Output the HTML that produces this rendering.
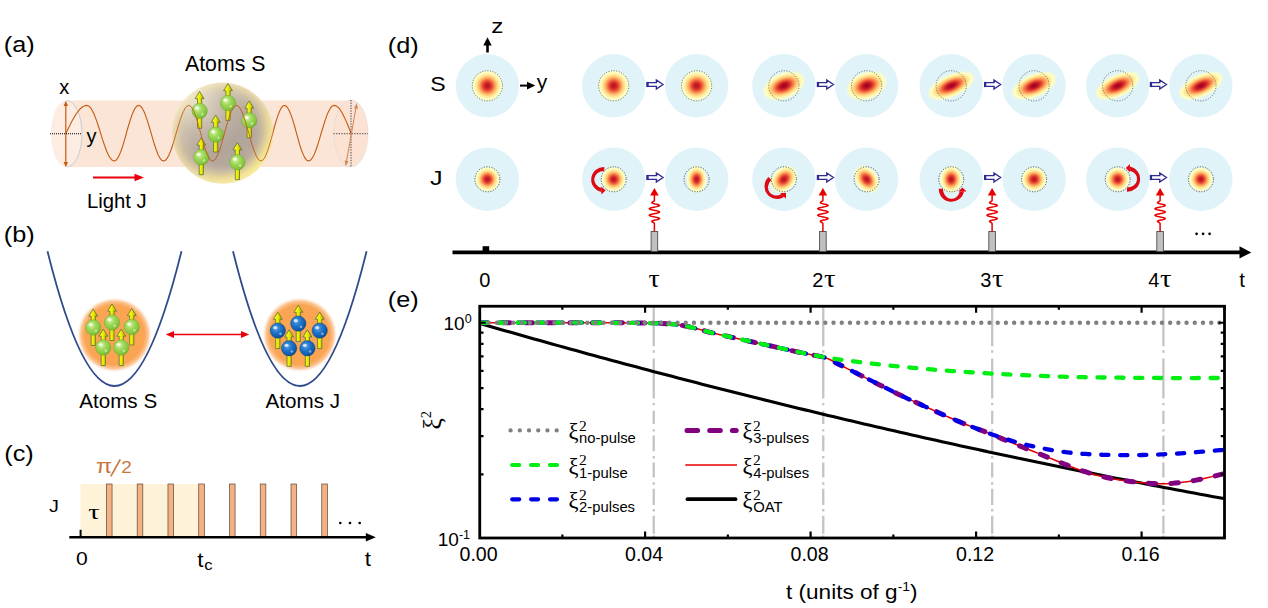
<!DOCTYPE html>
<html><head><meta charset="utf-8"><title>Figure</title>
<style>
html,body{margin:0;padding:0;background:#fff;}
body{width:1268px;height:608px;overflow:hidden;font-family:"Liberation Sans",sans-serif;}
svg{display:block;}
</style></head><body>
<svg width="1268" height="608" viewBox="0 0 1268 608">
<defs>
<radialGradient id="gs" cx="0" cy="0" r="1" gradientUnits="userSpaceOnUse"><stop offset="0.000" stop-color="#ba1426"/><stop offset="0.028" stop-color="#bb1526"/><stop offset="0.056" stop-color="#bc1626"/><stop offset="0.083" stop-color="#bf1927"/><stop offset="0.111" stop-color="#c31d27"/><stop offset="0.139" stop-color="#c82127"/><stop offset="0.167" stop-color="#ce2727"/><stop offset="0.194" stop-color="#d52e27"/><stop offset="0.222" stop-color="#da362a"/><stop offset="0.250" stop-color="#df402f"/><stop offset="0.278" stop-color="#e44b34"/><stop offset="0.306" stop-color="#ea5739"/><stop offset="0.333" stop-color="#ef633f"/><stop offset="0.361" stop-color="#f47044"/><stop offset="0.389" stop-color="#f67e4b"/><stop offset="0.417" stop-color="#f88c51"/><stop offset="0.444" stop-color="#fa9a58"/><stop offset="0.472" stop-color="#fca85e"/><stop offset="0.500" stop-color="#fdb467"/><stop offset="0.528" stop-color="#fdbe70"/><stop offset="0.556" stop-color="#fec97a"/><stop offset="0.583" stop-color="#fed383"/><stop offset="0.611" stop-color="#fedc8c"/><stop offset="0.639" stop-color="#fee395"/><stop offset="0.667" stop-color="#fee99d"/><stop offset="0.694" stop-color="#feeea5"/><stop offset="0.722" stop-color="#fff2ac"/><stop offset="0.750" stop-color="#fff7b3"/><stop offset="0.778" stop-color="#fffbb9"/><stop offset="0.806" stop-color="#ffffbf"/><stop offset="0.833" stop-color="#f9fdca"/><stop offset="0.861" stop-color="#f3fad5"/><stop offset="0.889" stop-color="#eef8df"/><stop offset="0.917" stop-color="#e9f6e8"/><stop offset="0.944" stop-color="#e4f5f0"/><stop offset="0.972" stop-color="#e0f3f7"/><stop offset="1.000" stop-color="#e0f3f8"/></radialGradient>
<radialGradient id="gs2" cx="0" cy="0" r="1" gradientUnits="userSpaceOnUse"><stop offset="0.000" stop-color="#a50026"/><stop offset="0.028" stop-color="#a60126"/><stop offset="0.056" stop-color="#a80226"/><stop offset="0.083" stop-color="#ab0526"/><stop offset="0.111" stop-color="#af0a26"/><stop offset="0.139" stop-color="#b50f26"/><stop offset="0.167" stop-color="#bb1526"/><stop offset="0.194" stop-color="#c31d27"/><stop offset="0.222" stop-color="#cb2527"/><stop offset="0.250" stop-color="#d52e27"/><stop offset="0.278" stop-color="#db392b"/><stop offset="0.306" stop-color="#e24631"/><stop offset="0.333" stop-color="#e85437"/><stop offset="0.361" stop-color="#ef623e"/><stop offset="0.389" stop-color="#f47044"/><stop offset="0.417" stop-color="#f7804c"/><stop offset="0.444" stop-color="#f98f53"/><stop offset="0.472" stop-color="#fb9e5a"/><stop offset="0.500" stop-color="#fdad61"/><stop offset="0.528" stop-color="#fdb96b"/><stop offset="0.556" stop-color="#fdc476"/><stop offset="0.583" stop-color="#fecf80"/><stop offset="0.611" stop-color="#fed989"/><stop offset="0.639" stop-color="#fee293"/><stop offset="0.667" stop-color="#fee79b"/><stop offset="0.694" stop-color="#feeda4"/><stop offset="0.722" stop-color="#fff2ab"/><stop offset="0.750" stop-color="#fff7b2"/><stop offset="0.778" stop-color="#fffbb9"/><stop offset="0.806" stop-color="#ffffbf"/><stop offset="0.833" stop-color="#f8fccb"/><stop offset="0.861" stop-color="#f2fad6"/><stop offset="0.889" stop-color="#edf8e0"/><stop offset="0.917" stop-color="#e8f6ea"/><stop offset="0.944" stop-color="#e3f4f2"/><stop offset="0.972" stop-color="#e0f3f8"/><stop offset="1.000" stop-color="#e0f3f8"/></radialGradient>

<radialGradient id="gball" cx="0.38" cy="0.35" r="0.7"><stop offset="0" stop-color="#d6f3a4"/><stop offset="0.45" stop-color="#9bd655"/><stop offset="0.85" stop-color="#82c43a"/><stop offset="1" stop-color="#69a82c"/></radialGradient>
<radialGradient id="bball" cx="0.38" cy="0.35" r="0.7"><stop offset="0" stop-color="#5aa6e8"/><stop offset="0.45" stop-color="#1f74c8"/><stop offset="0.85" stop-color="#0d58a8"/><stop offset="1" stop-color="#083f80"/></radialGradient>
<linearGradient id="arr" x1="0" x2="1" y1="0" y2="0"><stop offset="0" stop-color="#ffff40"/><stop offset="0.5" stop-color="#f0ec00"/><stop offset="1" stop-color="#a8a200"/></linearGradient>
<radialGradient id="sph" cx="0.5" cy="0.5" r="0.5"><stop offset="0" stop-color="#a69a90" stop-opacity="0.9"/><stop offset="0.6" stop-color="#ada095" stop-opacity="0.9"/><stop offset="0.8" stop-color="#bfb19c" stop-opacity="0.9"/><stop offset="0.93" stop-color="#dccb9f" stop-opacity="0.92"/><stop offset="1" stop-color="#ecdcb0" stop-opacity="0.92"/></radialGradient>
<radialGradient id="sphhi" cx="0.25" cy="0.22" r="0.5"><stop offset="0" stop-color="#fff6e2" stop-opacity="0.62"/><stop offset="0.55" stop-color="#fff6e0" stop-opacity="0.22"/><stop offset="1" stop-color="#fff8e0" stop-opacity="0"/></radialGradient>
<radialGradient id="sphlo" cx="0.5" cy="0.5" r="0.5"><stop offset="0.7" stop-color="#f8e88c" stop-opacity="0"/><stop offset="0.9" stop-color="#f8e88c" stop-opacity="0.8"/><stop offset="1" stop-color="#fbeea0" stop-opacity="0.9"/></radialGradient>
<linearGradient id="lomask" x1="0.25" y1="0.2" x2="0.8" y2="0.9"><stop offset="0.45" stop-color="#000"/><stop offset="0.95" stop-color="#fff"/></linearGradient>
<mask id="mlo" maskUnits="userSpaceOnUse" x="170" y="80" width="106" height="106"><rect x="170" y="80" width="106" height="106" fill="url(#lomask)"/></mask>
<radialGradient id="blob" cx="0.5" cy="0.5" r="0.5"><stop offset="0" stop-color="#f9a553"/><stop offset="0.8" stop-color="#f9a553"/><stop offset="0.9" stop-color="#fab576" stop-opacity="0.8"/><stop offset="1" stop-color="#fcd9bd" stop-opacity="0"/></radialGradient>

</defs>
<rect width="1268" height="608" fill="#ffffff"/>
<text transform="translate(3.70,52.00) scale(1.120,1)" font-family="Liberation Sans, sans-serif" font-size="22.60" fill="#000" >(a)</text>
<text x="185" y="71" font-family="Liberation Sans, sans-serif" font-size="21.3">Atoms S</text>
<rect x="66" y="100.5" width="285" height="66.5" fill="#fbe5d6"/>
<ellipse cx="66.5" cy="133.75" rx="15.5" ry="33.2" fill="#fcece2"/>
<path d="M66.5,100.5 A15.5,33.2 0 0 1 66.5,167" fill="none" stroke="#b8bccb" stroke-width="0.7"/>
<ellipse cx="351" cy="133.5" rx="17" ry="33.5" fill="#fbe2d3" stroke="#c9c9c9" stroke-width="0.6" stroke-dasharray="1.2 1"/>
<path d="M66.0,133.2 L67.5,130.1 L69.0,127.0 L70.5,124.0 L72.0,121.1 L73.5,118.4 L75.0,115.9 L76.5,113.5 L78.0,111.5 L79.5,109.7 L81.0,108.2 L82.5,107.0 L84.0,106.1 L85.5,105.6 L87.0,105.4 L88.9,106.1 L90.9,108.2 L92.8,111.5 L94.8,115.9 L96.7,121.1 L98.7,127.0 L100.6,133.2 L102.5,139.4 L104.5,145.3 L106.4,150.5 L108.4,154.9 L110.3,158.2 L112.3,160.3 L114.2,161.0 L115.9,160.3 L117.7,158.2 L119.4,154.9 L121.2,150.5 L122.9,145.3 L124.7,139.4 L126.4,133.2 L128.1,127.0 L129.9,121.1 L131.6,115.9 L133.4,111.5 L135.1,108.2 L136.9,106.1 L138.6,105.4 L140.4,106.1 L142.2,108.2 L144.0,111.5 L145.7,115.9 L147.5,121.1 L149.3,127.0 L151.1,133.2 L152.9,139.4 L154.7,145.3 L156.5,150.5 L158.2,154.9 L160.0,158.2 L161.8,160.3 L163.6,161.0 L165.4,160.3 L167.2,158.2 L169.0,154.9 L170.8,150.5 L172.6,145.3 L174.4,139.4 L176.2,133.2 L178.0,127.0 L179.8,121.1 L181.6,115.9 L183.4,111.5 L185.2,108.2 L187.0,106.1 L188.8,105.4 L190.5,106.1 L192.2,108.2 L193.9,111.5 L195.6,115.9 L197.3,121.1 L199.0,127.0 L200.7,133.2 L202.3,139.4 L204.0,145.3 L205.7,150.5 L207.4,154.9 L209.1,158.2 L210.8,160.3 L212.5,161.0 L214.2,160.3 L215.9,158.2 L217.6,154.9 L219.4,150.5 L221.1,145.3 L222.8,139.4 L224.5,133.2 L226.2,127.0 L227.9,121.1 L229.6,115.9 L231.4,111.5 L233.1,108.2 L234.8,106.1 L236.5,105.4 L238.2,106.1 L240.0,108.2 L241.8,111.5 L243.5,115.9 L245.2,121.1 L247.0,127.0 L248.8,133.2 L250.5,139.4 L252.2,145.3 L254.0,150.5 L255.8,154.9 L257.5,158.2 L259.2,160.3 L261.0,161.0 L262.7,160.3 L264.4,158.2 L266.0,154.9 L267.7,150.5 L269.4,145.3 L271.1,139.4 L272.8,133.2 L274.4,127.0 L276.1,121.1 L277.8,115.9 L279.5,111.5 L281.1,108.2 L282.8,106.1 L284.5,105.4 L286.2,106.1 L287.9,108.2 L289.6,111.5 L291.4,115.9 L293.1,121.1 L294.8,127.0 L296.5,133.2 L298.2,139.4 L299.9,145.3 L301.6,150.5 L303.4,154.9 L305.1,158.2 L306.8,160.3 L308.5,161.0 L310.3,160.3 L312.1,158.2 L314.0,154.9 L315.8,150.5 L317.6,145.3 L319.4,139.4 L321.2,133.2 L323.1,127.0 L324.9,121.1 L326.7,115.9 L328.5,111.5 L330.4,108.2 L332.2,106.1 L334.0,105.4 L335.2,105.6 L336.4,106.1 L337.6,107.0 L338.9,108.2 L340.1,109.7 L341.3,111.5 L342.5,113.5 L343.7,115.9 L344.9,118.4 L346.1,121.1 L347.4,124.0 L348.6,127.0 L349.8,130.1 L351.0,133.2" fill="none" stroke="#c55a11" stroke-width="1.1" stroke-linejoin="round"/>
<path d="M65.8,103 L65.8,165" stroke="#c55a11" stroke-width="1.2"/>
<path d="M65.8,100.8 L63.6,106 L68,106 Z M65.8,167.2 L63.6,162 L68,162 Z" fill="#c55a11"/>
<path d="M50,133.75 L82,133.75" stroke="#000" stroke-width="1" stroke-dasharray="1 1"/>
<text x="59.3" y="93.8" font-family="Liberation Sans, sans-serif" font-size="20">x</text>
<text x="86.5" y="142.8" font-family="Liberation Sans, sans-serif" font-size="20">y</text>
<path d="M351,100 L351,167 M333.5,133.7 L368,133.7" stroke="#333" stroke-width="0.9" stroke-dasharray="1.3 1.3"/>
<path d="M356.2,106.5 L346.2,163.2" stroke="#d08a5c" stroke-width="1.1"/>
<path d="M356.8,103.2 L353.9,108.3 L357.9,109 Z M345.6,166.3 L344.6,160.6 L348.5,161.3 Z" fill="#d08a5c"/>
<circle cx="222.6" cy="133" r="50.6" fill="url(#sph)"/>
<circle cx="222.6" cy="133" r="50.6" fill="url(#sphhi)"/>
<circle cx="222.6" cy="133" r="50.6" fill="url(#sphlo)" mask="url(#mlo)"/>
<path d="M199.60,91.40 L204.05,98.60 L201.70,98.60 L201.70,128.30 L197.50,128.30 L197.50,98.60 L195.15,98.60 Z" fill="url(#arr)" stroke="#4d6e3c" stroke-width="0.75" stroke-linejoin="round"/><circle cx="199.60" cy="110.90" r="7.70" fill="url(#gball)" stroke="#6aa030" stroke-width="0.4"/><ellipse cx="197.06" cy="107.97" rx="2.08" ry="1.69" fill="#fff" opacity="0.75"/><circle cx="202.29" cy="114.13" r="1.31" fill="#fff" opacity="0.45"/>
<path d="M228.00,83.50 L232.45,90.70 L230.10,90.70 L230.10,120.40 L225.90,120.40 L225.90,90.70 L223.55,90.70 Z" fill="url(#arr)" stroke="#4d6e3c" stroke-width="0.75" stroke-linejoin="round"/><circle cx="228.00" cy="103.00" r="7.70" fill="url(#gball)" stroke="#6aa030" stroke-width="0.4"/><ellipse cx="225.46" cy="100.07" rx="2.08" ry="1.69" fill="#fff" opacity="0.75"/><circle cx="230.69" cy="106.23" r="1.31" fill="#fff" opacity="0.45"/>
<path d="M249.20,100.90 L253.65,108.10 L251.30,108.10 L251.30,137.80 L247.10,137.80 L247.10,108.10 L244.75,108.10 Z" fill="url(#arr)" stroke="#4d6e3c" stroke-width="0.75" stroke-linejoin="round"/><circle cx="249.20" cy="120.40" r="7.70" fill="url(#gball)" stroke="#6aa030" stroke-width="0.4"/><ellipse cx="246.66" cy="117.47" rx="2.08" ry="1.69" fill="#fff" opacity="0.75"/><circle cx="251.89" cy="123.63" r="1.31" fill="#fff" opacity="0.45"/>
<path d="M215.70,115.10 L220.15,122.30 L217.80,122.30 L217.80,152.00 L213.60,152.00 L213.60,122.30 L211.25,122.30 Z" fill="url(#arr)" stroke="#4d6e3c" stroke-width="0.75" stroke-linejoin="round"/><circle cx="215.70" cy="134.60" r="7.70" fill="url(#gball)" stroke="#6aa030" stroke-width="0.4"/><ellipse cx="213.16" cy="131.67" rx="2.08" ry="1.69" fill="#fff" opacity="0.75"/><circle cx="218.39" cy="137.83" r="1.31" fill="#fff" opacity="0.45"/>
<path d="M201.30,137.80 L205.75,145.00 L203.40,145.00 L203.40,174.70 L199.20,174.70 L199.20,145.00 L196.85,145.00 Z" fill="url(#arr)" stroke="#4d6e3c" stroke-width="0.75" stroke-linejoin="round"/><circle cx="201.30" cy="157.30" r="7.70" fill="url(#gball)" stroke="#6aa030" stroke-width="0.4"/><ellipse cx="198.76" cy="154.37" rx="2.08" ry="1.69" fill="#fff" opacity="0.75"/><circle cx="204.00" cy="160.53" r="1.31" fill="#fff" opacity="0.45"/>
<path d="M237.40,142.70 L241.85,149.90 L239.50,149.90 L239.50,179.60 L235.30,179.60 L235.30,149.90 L232.95,149.90 Z" fill="url(#arr)" stroke="#4d6e3c" stroke-width="0.75" stroke-linejoin="round"/><circle cx="237.40" cy="162.20" r="7.70" fill="url(#gball)" stroke="#6aa030" stroke-width="0.4"/><ellipse cx="234.86" cy="159.27" rx="2.08" ry="1.69" fill="#fff" opacity="0.75"/><circle cx="240.09" cy="165.43" r="1.31" fill="#fff" opacity="0.45"/>
<clipPath id="csph"><circle cx="222.6" cy="133" r="50.6"/></clipPath>
<path clip-path="url(#csph)" d="M66.0,133.2 L67.5,130.1 L69.0,127.0 L70.5,124.0 L72.0,121.1 L73.5,118.4 L75.0,115.9 L76.5,113.5 L78.0,111.5 L79.5,109.7 L81.0,108.2 L82.5,107.0 L84.0,106.1 L85.5,105.6 L87.0,105.4 L88.9,106.1 L90.9,108.2 L92.8,111.5 L94.8,115.9 L96.7,121.1 L98.7,127.0 L100.6,133.2 L102.5,139.4 L104.5,145.3 L106.4,150.5 L108.4,154.9 L110.3,158.2 L112.3,160.3 L114.2,161.0 L115.9,160.3 L117.7,158.2 L119.4,154.9 L121.2,150.5 L122.9,145.3 L124.7,139.4 L126.4,133.2 L128.1,127.0 L129.9,121.1 L131.6,115.9 L133.4,111.5 L135.1,108.2 L136.9,106.1 L138.6,105.4 L140.4,106.1 L142.2,108.2 L144.0,111.5 L145.7,115.9 L147.5,121.1 L149.3,127.0 L151.1,133.2 L152.9,139.4 L154.7,145.3 L156.5,150.5 L158.2,154.9 L160.0,158.2 L161.8,160.3 L163.6,161.0 L165.4,160.3 L167.2,158.2 L169.0,154.9 L170.8,150.5 L172.6,145.3 L174.4,139.4 L176.2,133.2 L178.0,127.0 L179.8,121.1 L181.6,115.9 L183.4,111.5 L185.2,108.2 L187.0,106.1 L188.8,105.4 L190.5,106.1 L192.2,108.2 L193.9,111.5 L195.6,115.9 L197.3,121.1 L199.0,127.0 L200.7,133.2 L202.3,139.4 L204.0,145.3 L205.7,150.5 L207.4,154.9 L209.1,158.2 L210.8,160.3 L212.5,161.0 L214.2,160.3 L215.9,158.2 L217.6,154.9 L219.4,150.5 L221.1,145.3 L222.8,139.4 L224.5,133.2 L226.2,127.0 L227.9,121.1 L229.6,115.9 L231.4,111.5 L233.1,108.2 L234.8,106.1 L236.5,105.4 L238.2,106.1 L240.0,108.2 L241.8,111.5 L243.5,115.9 L245.2,121.1 L247.0,127.0 L248.8,133.2 L250.5,139.4 L252.2,145.3 L254.0,150.5 L255.8,154.9 L257.5,158.2 L259.2,160.3 L261.0,161.0 L262.7,160.3 L264.4,158.2 L266.0,154.9 L267.7,150.5 L269.4,145.3 L271.1,139.4 L272.8,133.2 L274.4,127.0 L276.1,121.1 L277.8,115.9 L279.5,111.5 L281.1,108.2 L282.8,106.1 L284.5,105.4 L286.2,106.1 L287.9,108.2 L289.6,111.5 L291.4,115.9 L293.1,121.1 L294.8,127.0 L296.5,133.2 L298.2,139.4 L299.9,145.3 L301.6,150.5 L303.4,154.9 L305.1,158.2 L306.8,160.3 L308.5,161.0 L310.3,160.3 L312.1,158.2 L314.0,154.9 L315.8,150.5 L317.6,145.3 L319.4,139.4 L321.2,133.2 L323.1,127.0 L324.9,121.1 L326.7,115.9 L328.5,111.5 L330.4,108.2 L332.2,106.1 L334.0,105.4 L335.2,105.6 L336.4,106.1 L337.6,107.0 L338.9,108.2 L340.1,109.7 L341.3,111.5 L342.5,113.5 L343.7,115.9 L344.9,118.4 L346.1,121.1 L347.4,124.0 L348.6,127.0 L349.8,130.1 L351.0,133.2" fill="none" stroke="#c55a11" stroke-width="1" opacity="0.85"/>
<path d="M93,177.5 L136,177.5" stroke="#e8000d" stroke-width="1.8"/>
<path d="M144,177.5 L134.5,173.7 L134.5,181.3 Z" fill="#e8000d"/>
<text x="87" y="207.5" font-family="Liberation Sans, sans-serif" font-size="20.3">Light J</text>
<text transform="translate(3.70,242.00) scale(1.120,1)" font-family="Liberation Sans, sans-serif" font-size="22.60" fill="#000" >(b)</text>
<path d="M47.50,251.25 Q114.50,520.75 181.50,251.25" fill="none" stroke="#2f4b8c" stroke-width="1.8"/>
<path d="M233.00,251.25 Q299.80,520.75 366.60,251.25" fill="none" stroke="#2f4b8c" stroke-width="1.8"/>
<circle cx="114.5" cy="334.9" r="37.3" fill="url(#blob)"/>
<circle cx="299.8" cy="334.8" r="37.3" fill="url(#blob)"/>
<path d="M93.25,309.00 L97.70,316.20 L95.35,316.20 L95.35,345.50 L91.15,345.50 L91.15,316.20 L88.80,316.20 Z" fill="url(#arr)" stroke="#4d6e3c" stroke-width="0.75" stroke-linejoin="round"/><circle cx="93.25" cy="327.50" r="7.70" fill="url(#gball)" stroke="#6aa030" stroke-width="0.4"/><ellipse cx="90.71" cy="324.57" rx="2.08" ry="1.69" fill="#fff" opacity="0.75"/><circle cx="95.94" cy="330.73" r="1.31" fill="#fff" opacity="0.45"/>
<path d="M112.00,304.00 L116.45,311.20 L114.10,311.20 L114.10,340.50 L109.90,340.50 L109.90,311.20 L107.55,311.20 Z" fill="url(#arr)" stroke="#4d6e3c" stroke-width="0.75" stroke-linejoin="round"/><circle cx="112.00" cy="322.50" r="7.70" fill="url(#gball)" stroke="#6aa030" stroke-width="0.4"/><ellipse cx="109.46" cy="319.57" rx="2.08" ry="1.69" fill="#fff" opacity="0.75"/><circle cx="114.69" cy="325.73" r="1.31" fill="#fff" opacity="0.45"/>
<path d="M131.75,308.50 L136.20,315.70 L133.85,315.70 L133.85,345.00 L129.65,345.00 L129.65,315.70 L127.30,315.70 Z" fill="url(#arr)" stroke="#4d6e3c" stroke-width="0.75" stroke-linejoin="round"/><circle cx="131.75" cy="327.00" r="7.70" fill="url(#gball)" stroke="#6aa030" stroke-width="0.4"/><ellipse cx="129.21" cy="324.07" rx="2.08" ry="1.69" fill="#fff" opacity="0.75"/><circle cx="134.44" cy="330.23" r="1.31" fill="#fff" opacity="0.45"/>
<path d="M103.25,329.00 L107.70,336.20 L105.35,336.20 L105.35,365.50 L101.15,365.50 L101.15,336.20 L98.80,336.20 Z" fill="url(#arr)" stroke="#4d6e3c" stroke-width="0.75" stroke-linejoin="round"/><circle cx="103.25" cy="347.50" r="7.70" fill="url(#gball)" stroke="#6aa030" stroke-width="0.4"/><ellipse cx="100.71" cy="344.57" rx="2.08" ry="1.69" fill="#fff" opacity="0.75"/><circle cx="105.94" cy="350.73" r="1.31" fill="#fff" opacity="0.45"/>
<path d="M121.25,329.00 L125.70,336.20 L123.35,336.20 L123.35,365.50 L119.15,365.50 L119.15,336.20 L116.80,336.20 Z" fill="url(#arr)" stroke="#4d6e3c" stroke-width="0.75" stroke-linejoin="round"/><circle cx="121.25" cy="347.50" r="7.70" fill="url(#gball)" stroke="#6aa030" stroke-width="0.4"/><ellipse cx="118.71" cy="344.57" rx="2.08" ry="1.69" fill="#fff" opacity="0.75"/><circle cx="123.94" cy="350.73" r="1.31" fill="#fff" opacity="0.45"/>
<path d="M277.80,312.10 L282.25,319.30 L279.90,319.30 L279.90,348.60 L275.70,348.60 L275.70,319.30 L273.35,319.30 Z" fill="url(#arr)" stroke="#4d6e3c" stroke-width="0.75" stroke-linejoin="round"/><circle cx="277.80" cy="330.60" r="7.70" fill="url(#bball)" stroke="#0a3a78" stroke-width="0.4"/><ellipse cx="275.26" cy="327.67" rx="2.08" ry="1.69" fill="#fff" opacity="0.75"/><circle cx="280.50" cy="333.83" r="1.31" fill="#fff" opacity="0.45"/>
<path d="M298.30,305.10 L302.75,312.30 L300.40,312.30 L300.40,341.60 L296.20,341.60 L296.20,312.30 L293.85,312.30 Z" fill="url(#arr)" stroke="#4d6e3c" stroke-width="0.75" stroke-linejoin="round"/><circle cx="298.30" cy="323.60" r="7.70" fill="url(#bball)" stroke="#0a3a78" stroke-width="0.4"/><ellipse cx="295.76" cy="320.67" rx="2.08" ry="1.69" fill="#fff" opacity="0.75"/><circle cx="301.00" cy="326.83" r="1.31" fill="#fff" opacity="0.45"/>
<path d="M319.70,312.10 L324.15,319.30 L321.80,319.30 L321.80,348.60 L317.60,348.60 L317.60,319.30 L315.25,319.30 Z" fill="url(#arr)" stroke="#4d6e3c" stroke-width="0.75" stroke-linejoin="round"/><circle cx="319.70" cy="330.60" r="7.70" fill="url(#bball)" stroke="#0a3a78" stroke-width="0.4"/><ellipse cx="317.16" cy="327.67" rx="2.08" ry="1.69" fill="#fff" opacity="0.75"/><circle cx="322.39" cy="333.83" r="1.31" fill="#fff" opacity="0.45"/>
<path d="M289.10,329.80 L293.55,337.00 L291.20,337.00 L291.20,366.30 L287.00,366.30 L287.00,337.00 L284.65,337.00 Z" fill="url(#arr)" stroke="#4d6e3c" stroke-width="0.75" stroke-linejoin="round"/><circle cx="289.10" cy="348.30" r="7.70" fill="url(#bball)" stroke="#0a3a78" stroke-width="0.4"/><ellipse cx="286.56" cy="345.37" rx="2.08" ry="1.69" fill="#fff" opacity="0.75"/><circle cx="291.80" cy="351.53" r="1.31" fill="#fff" opacity="0.45"/>
<path d="M307.40,329.80 L311.85,337.00 L309.50,337.00 L309.50,366.30 L305.30,366.30 L305.30,337.00 L302.95,337.00 Z" fill="url(#arr)" stroke="#4d6e3c" stroke-width="0.75" stroke-linejoin="round"/><circle cx="307.40" cy="348.30" r="7.70" fill="url(#bball)" stroke="#0a3a78" stroke-width="0.4"/><ellipse cx="304.86" cy="345.37" rx="2.08" ry="1.69" fill="#fff" opacity="0.75"/><circle cx="310.09" cy="351.53" r="1.31" fill="#fff" opacity="0.45"/>
<path d="M172,334.5 L243,334.5" stroke="#e8000d" stroke-width="1.6"/>
<path d="M165.8,334.5 L174,331 L174,338 Z M249.2,334.5 L241,331 L241,338 Z" fill="#e8000d"/>
<text x="79.3" y="408.3" font-family="Liberation Sans, sans-serif" font-size="20.6">Atoms S</text>
<text x="265.6" y="408" font-family="Liberation Sans, sans-serif" font-size="20.6">Atoms J</text>
<text transform="translate(4.20,460.50) scale(1.120,1)" font-family="Liberation Sans, sans-serif" font-size="22.60" fill="#000" >(c)</text>
<rect x="80.5" y="484" width="123" height="53" fill="#fef2d9"/>
<rect x="106.45" y="484" width="5.6" height="53" fill="#f4b183" stroke="#5a4636" stroke-width="0.7"/>
<rect x="137.21" y="484" width="5.6" height="53" fill="#f4b183" stroke="#5a4636" stroke-width="0.7"/>
<rect x="167.97" y="484" width="5.6" height="53" fill="#f4b183" stroke="#5a4636" stroke-width="0.7"/>
<rect x="198.73" y="484" width="5.6" height="53" fill="#f4b183" stroke="#5a4636" stroke-width="0.7"/>
<rect x="229.49" y="484" width="5.6" height="53" fill="#f4b183" stroke="#5a4636" stroke-width="0.7"/>
<rect x="260.25" y="484" width="5.6" height="53" fill="#f4b183" stroke="#5a4636" stroke-width="0.7"/>
<rect x="291.01" y="484" width="5.6" height="53" fill="#f4b183" stroke="#5a4636" stroke-width="0.7"/>
<rect x="321.77" y="484" width="5.6" height="53" fill="#f4b183" stroke="#5a4636" stroke-width="0.7"/>
<path d="M69.3,537.2 L367,537.2" stroke="#000" stroke-width="2.6"/>
<path d="M375.8,537.2 L365.8,533 L365.8,541.4 Z" fill="#000"/>
<path d="M80.6,529.8 L80.6,537" stroke="#000" stroke-width="2"/>
<text transform="translate(96.00,473.00) scale(1.200,1)" font-family="Liberation Sans, sans-serif" font-size="19.50" fill="#c7793c" >π</text>
<path d="M110.8,476.3 L120.3,459.3" stroke="#c7793c" stroke-width="1.7"/>
<text transform="translate(121.20,473.00) scale(1.100,1)" font-family="Liberation Sans, sans-serif" font-size="17.20" fill="#c7793c" >2</text>
<text transform="translate(49.00,512.30) scale(1.200,1)" font-family="Liberation Sans, sans-serif" font-size="16.50" fill="#000" >J</text>
<text transform="translate(88.30,518.80) scale(1.300,1)" font-family="Liberation Serif, serif" font-size="22.00" fill="#000" >τ</text>
<text transform="translate(76.00,565.00) scale(1.200,1)" font-family="Liberation Sans, sans-serif" font-size="17.60" fill="#000" >0</text>
<text transform="translate(197.30,567.00) scale(1.150,1)" font-family="Liberation Sans, sans-serif" font-size="19.50" fill="#000" >t</text>
<text transform="translate(204.30,570.30) scale(1.150,1)" font-family="Liberation Sans, sans-serif" font-size="14.50" fill="#000" >c</text>
<text transform="translate(364.80,565.80) scale(1.150,1)" font-family="Liberation Sans, sans-serif" font-size="19.50" fill="#000" >t</text>
<circle cx="340.3" cy="523" r="1.3" fill="#000"/>
<circle cx="350.0" cy="523" r="1.3" fill="#000"/>
<circle cx="359.7" cy="523" r="1.3" fill="#000"/>
<text transform="translate(387.70,52.50) scale(1.120,1)" font-family="Liberation Sans, sans-serif" font-size="22.60" fill="#000" >(d)</text>
<text transform="translate(491.30,33.00) scale(1.150,1)" font-family="Liberation Sans, sans-serif" font-size="21.00" fill="#000" >z</text>
<path d="M487.5,52.5 L487.5,44" stroke="#000" stroke-width="2.6"/>
<path d="M487.5,37.3 L483.3,45.5 L491.7,45.5 Z" fill="#000"/>
<path d="M520,85.6 L528,85.6" stroke="#000" stroke-width="2"/>
<path d="M535.3,85.6 L527,81.8 L527,89.4 Z" fill="#000"/>
<text x="536.8" y="88.5" font-family="Liberation Sans, sans-serif" font-size="21">y</text>
<text transform="translate(430.30,91.30) scale(1.100,1)" font-family="Liberation Sans, sans-serif" font-size="21.00" fill="#000" >S</text>
<text transform="translate(430.00,185.30) scale(1.220,1)" font-family="Liberation Sans, sans-serif" font-size="20.60" fill="#000" >J</text>
<clipPath id="cps0"><circle cx="487.40" cy="85.80" r="31.70"/></clipPath><circle cx="487.40" cy="85.80" r="31.70" fill="#e0f3f8"/><g clip-path="url(#cps0)"><g transform="translate(487.40,85.80) rotate(0.0) scale(16.790,16.790)"><circle r="1" fill="url(#gs)"/></g></g><circle cx="487.40" cy="85.80" r="15.10" fill="none" stroke="#222" stroke-width="0.62" stroke-linecap="round" stroke-dasharray="0.3 2.33"/>
<clipPath id="cpj0"><circle cx="487.40" cy="179.30" r="31.70"/></clipPath><circle cx="487.40" cy="179.30" r="31.70" fill="#e0f3f8"/><g clip-path="url(#cpj0)"><g transform="translate(487.40,179.30) rotate(0.0) scale(13.570,13.570)"><circle r="1" fill="url(#gs)"/></g></g><circle cx="487.40" cy="179.30" r="12.50" fill="none" stroke="#222" stroke-width="0.78" stroke-linecap="round" stroke-dasharray="0.3 2.33"/>
<clipPath id="cps1"><circle cx="613.70" cy="85.80" r="31.70"/></clipPath><circle cx="613.70" cy="85.80" r="31.70" fill="#e0f3f8"/><g clip-path="url(#cps1)"><g transform="translate(613.70,85.80) rotate(0.0) scale(16.790,16.790)"><circle r="1" fill="url(#gs)"/></g></g><circle cx="613.70" cy="85.80" r="15.10" fill="none" stroke="#222" stroke-width="0.62" stroke-linecap="round" stroke-dasharray="0.3 2.33"/>
<clipPath id="cpj1"><circle cx="613.70" cy="179.30" r="31.70"/></clipPath><circle cx="613.70" cy="179.30" r="31.70" fill="#e0f3f8"/><g clip-path="url(#cpj1)"><g transform="translate(613.70,179.30) rotate(0.0) scale(13.570,13.570)"><circle r="1" fill="url(#gs)"/></g></g><circle cx="613.70" cy="179.30" r="12.50" fill="none" stroke="#222" stroke-width="0.78" stroke-linecap="round" stroke-dasharray="0.3 2.33"/>
<clipPath id="cps2"><circle cx="696.60" cy="85.80" r="31.70"/></clipPath><circle cx="696.60" cy="85.80" r="31.70" fill="#e0f3f8"/><g clip-path="url(#cps2)"><g transform="translate(696.60,85.80) rotate(-10.0) scale(17.250,16.330)"><circle r="1" fill="url(#gs)"/></g></g><circle cx="696.60" cy="85.80" r="15.10" fill="none" stroke="#222" stroke-width="0.62" stroke-linecap="round" stroke-dasharray="0.3 2.33"/>
<clipPath id="cpj2"><circle cx="696.60" cy="179.30" r="31.70"/></clipPath><circle cx="696.60" cy="179.30" r="31.70" fill="#e0f3f8"/><g clip-path="url(#cpj2)"><g transform="translate(696.60,179.30) rotate(90.0) scale(14.490,11.040)"><circle r="1" fill="url(#gs)"/></g></g><circle cx="696.60" cy="179.30" r="12.50" fill="none" stroke="#222" stroke-width="0.78" stroke-linecap="round" stroke-dasharray="0.3 2.33"/>
<clipPath id="cps3"><circle cx="783.90" cy="85.80" r="31.70"/></clipPath><circle cx="783.90" cy="85.80" r="31.70" fill="#e0f3f8"/><g clip-path="url(#cps3)"><g transform="translate(783.90,85.80) rotate(-23.0) scale(23.920,14.030)"><circle r="1" fill="url(#gs2)"/></g></g><circle cx="783.90" cy="85.80" r="15.10" fill="none" stroke="#222" stroke-width="0.62" stroke-linecap="round" stroke-dasharray="0.3 2.33"/>
<clipPath id="cpj3"><circle cx="783.90" cy="179.30" r="31.70"/></clipPath><circle cx="783.90" cy="179.30" r="31.70" fill="#e0f3f8"/><g clip-path="url(#cpj3)"><g transform="translate(783.90,179.30) rotate(-45.0) scale(16.330,12.420)"><circle r="1" fill="url(#gs)"/></g></g><circle cx="783.90" cy="179.30" r="12.50" fill="none" stroke="#222" stroke-width="0.78" stroke-linecap="round" stroke-dasharray="0.3 2.33"/>
<clipPath id="cps4"><circle cx="866.60" cy="85.80" r="31.70"/></clipPath><circle cx="866.60" cy="85.80" r="31.70" fill="#e0f3f8"/><g clip-path="url(#cps4)"><g transform="translate(866.60,85.80) rotate(-20.0) scale(22.540,14.720)"><circle r="1" fill="url(#gs2)"/></g></g><circle cx="866.60" cy="85.80" r="15.10" fill="none" stroke="#222" stroke-width="0.62" stroke-linecap="round" stroke-dasharray="0.3 2.33"/>
<clipPath id="cpj4"><circle cx="866.60" cy="179.30" r="31.70"/></clipPath><circle cx="866.60" cy="179.30" r="31.70" fill="#e0f3f8"/><g clip-path="url(#cpj4)"><g transform="translate(866.60,179.30) rotate(52.0) scale(16.100,11.730)"><circle r="1" fill="url(#gs)"/></g></g><circle cx="866.60" cy="179.30" r="12.50" fill="none" stroke="#222" stroke-width="0.78" stroke-linecap="round" stroke-dasharray="0.3 2.33"/>
<clipPath id="cps5"><circle cx="951.20" cy="85.80" r="31.70"/></clipPath><circle cx="951.20" cy="85.80" r="31.70" fill="#e0f3f8"/><g clip-path="url(#cps5)"><g transform="translate(951.20,85.80) rotate(-24.0) scale(27.140,12.190)"><circle r="1" fill="url(#gs2)"/></g></g><circle cx="951.20" cy="85.80" r="15.10" fill="none" stroke="#222" stroke-width="0.62" stroke-linecap="round" stroke-dasharray="0.3 2.33"/>
<clipPath id="cpj5"><circle cx="951.20" cy="179.30" r="31.70"/></clipPath><circle cx="951.20" cy="179.30" r="31.70" fill="#e0f3f8"/><g clip-path="url(#cpj5)"><g transform="translate(951.20,179.30) rotate(90.0) scale(14.490,12.190)"><circle r="1" fill="url(#gs)"/></g></g><circle cx="951.20" cy="179.30" r="12.50" fill="none" stroke="#222" stroke-width="0.78" stroke-linecap="round" stroke-dasharray="0.3 2.33"/>
<clipPath id="cps6"><circle cx="1034.10" cy="85.80" r="31.70"/></clipPath><circle cx="1034.10" cy="85.80" r="31.70" fill="#e0f3f8"/><g clip-path="url(#cps6)"><g transform="translate(1034.10,85.80) rotate(-23.0) scale(25.760,12.650)"><circle r="1" fill="url(#gs2)"/></g></g><circle cx="1034.10" cy="85.80" r="15.10" fill="none" stroke="#222" stroke-width="0.62" stroke-linecap="round" stroke-dasharray="0.3 2.33"/>
<clipPath id="cpj6"><circle cx="1034.10" cy="179.30" r="31.70"/></clipPath><circle cx="1034.10" cy="179.30" r="31.70" fill="#e0f3f8"/><g clip-path="url(#cpj6)"><g transform="translate(1034.10,179.30) rotate(0.0) scale(13.800,13.110)"><circle r="1" fill="url(#gs)"/></g></g><circle cx="1034.10" cy="179.30" r="12.50" fill="none" stroke="#222" stroke-width="0.78" stroke-linecap="round" stroke-dasharray="0.3 2.33"/>
<clipPath id="cps7"><circle cx="1117.70" cy="85.80" r="31.70"/></clipPath><circle cx="1117.70" cy="85.80" r="31.70" fill="#e0f3f8"/><g clip-path="url(#cps7)"><g transform="translate(1117.70,85.80) rotate(-25.0) scale(25.990,12.190)"><circle r="1" fill="url(#gs2)"/></g></g><circle cx="1117.70" cy="85.80" r="15.10" fill="none" stroke="#222" stroke-width="0.62" stroke-linecap="round" stroke-dasharray="0.3 2.33"/>
<clipPath id="cpj7"><circle cx="1117.70" cy="179.30" r="31.70"/></clipPath><circle cx="1117.70" cy="179.30" r="31.70" fill="#e0f3f8"/><g clip-path="url(#cpj7)"><g transform="translate(1117.70,179.30) rotate(0.0) scale(13.110,13.110)"><circle r="1" fill="url(#gs)"/></g></g><circle cx="1117.70" cy="179.30" r="12.50" fill="none" stroke="#222" stroke-width="0.78" stroke-linecap="round" stroke-dasharray="0.3 2.33"/>
<clipPath id="cps8"><circle cx="1200.90" cy="85.80" r="31.70"/></clipPath><circle cx="1200.90" cy="85.80" r="31.70" fill="#e0f3f8"/><g clip-path="url(#cps8)"><g transform="translate(1200.90,85.80) rotate(-25.0) scale(25.990,12.190)"><circle r="1" fill="url(#gs2)"/></g></g><circle cx="1200.90" cy="85.80" r="15.10" fill="none" stroke="#222" stroke-width="0.62" stroke-linecap="round" stroke-dasharray="0.3 2.33"/>
<clipPath id="cpj8"><circle cx="1200.90" cy="179.30" r="31.70"/></clipPath><circle cx="1200.90" cy="179.30" r="31.70" fill="#e0f3f8"/><g clip-path="url(#cpj8)"><g transform="translate(1200.90,179.30) rotate(0.0) scale(13.110,13.110)"><circle r="1" fill="url(#gs)"/></g></g><circle cx="1200.90" cy="179.30" r="12.50" fill="none" stroke="#222" stroke-width="0.78" stroke-linecap="round" stroke-dasharray="0.3 2.33"/>
<path d="M647.20,82.60 L656.40,82.60 L656.40,80.00 L663.00,84.50 L656.40,89.00 L656.40,86.40 L647.20,86.40 Z" fill="#fff" stroke="#2e2a91" stroke-width="1.4" stroke-linejoin="miter"/><rect x="646.50" y="81.90" width="2.2" height="5.20" fill="#2e2a91"/>
<path d="M647.20,175.60 L656.40,175.60 L656.40,173.00 L663.00,177.50 L656.40,182.00 L656.40,179.40 L647.20,179.40 Z" fill="#fff" stroke="#2e2a91" stroke-width="1.4" stroke-linejoin="miter"/><rect x="646.50" y="174.90" width="2.2" height="5.20" fill="#2e2a91"/>
<path d="M817.60,82.60 L826.80,82.60 L826.80,80.00 L833.40,84.50 L826.80,89.00 L826.80,86.40 L817.60,86.40 Z" fill="#fff" stroke="#2e2a91" stroke-width="1.4" stroke-linejoin="miter"/><rect x="816.90" y="81.90" width="2.2" height="5.20" fill="#2e2a91"/>
<path d="M817.60,175.60 L826.80,175.60 L826.80,173.00 L833.40,177.50 L826.80,182.00 L826.80,179.40 L817.60,179.40 Z" fill="#fff" stroke="#2e2a91" stroke-width="1.4" stroke-linejoin="miter"/><rect x="816.90" y="174.90" width="2.2" height="5.20" fill="#2e2a91"/>
<path d="M984.80,82.60 L994.00,82.60 L994.00,80.00 L1000.60,84.50 L994.00,89.00 L994.00,86.40 L984.80,86.40 Z" fill="#fff" stroke="#2e2a91" stroke-width="1.4" stroke-linejoin="miter"/><rect x="984.10" y="81.90" width="2.2" height="5.20" fill="#2e2a91"/>
<path d="M984.80,175.60 L994.00,175.60 L994.00,173.00 L1000.60,177.50 L994.00,182.00 L994.00,179.40 L984.80,179.40 Z" fill="#fff" stroke="#2e2a91" stroke-width="1.4" stroke-linejoin="miter"/><rect x="984.10" y="174.90" width="2.2" height="5.20" fill="#2e2a91"/>
<path d="M1150.60,82.60 L1159.80,82.60 L1159.80,80.00 L1166.40,84.50 L1159.80,89.00 L1159.80,86.40 L1150.60,86.40 Z" fill="#fff" stroke="#2e2a91" stroke-width="1.4" stroke-linejoin="miter"/><rect x="1149.90" y="81.90" width="2.2" height="5.20" fill="#2e2a91"/>
<path d="M1150.60,175.60 L1159.80,175.60 L1159.80,173.00 L1166.40,177.50 L1159.80,182.00 L1159.80,179.40 L1150.60,179.40 Z" fill="#fff" stroke="#2e2a91" stroke-width="1.4" stroke-linejoin="miter"/><rect x="1149.90" y="174.90" width="2.2" height="5.20" fill="#2e2a91"/>
<path d="M452.5,252.4 L1241,252.4" stroke="#000" stroke-width="3.6"/>
<path d="M1251.3,252.4 L1239.5,246.3 L1239.5,258.5 Z" fill="#000"/>
<rect x="482.6" y="246.2" width="6.6" height="5" fill="#000"/>
<rect x="651.10" y="231.5" width="6.6" height="20" fill="#c0c0c0" stroke="#4d4d4d" stroke-width="0.9"/>
<path d="M654.40,231.50 L654.40,226.00 L654.40,223.50 L654.21,223.12 L653.70,222.73 L653.01,222.35 L652.33,221.97 L651.89,221.58 L651.88,221.20 L652.42,220.82 L653.54,220.43 L655.13,220.05 L657.00,219.67 L658.44,219.28 L659.35,218.90 L659.59,218.52 L659.15,218.13 L658.08,217.75 L656.52,217.37 L654.67,216.98 L652.79,216.60 L651.13,216.22 L649.90,215.83 L649.26,215.45 L649.31,215.07 L650.04,214.68 L651.34,214.30 L653.05,213.92 L654.94,213.53 L656.76,213.15 L658.26,212.77 L659.25,212.38 L659.60,212.00 L659.25,211.62 L658.26,211.23 L656.76,210.85 L654.94,210.47 L653.05,210.08 L651.34,209.70 L650.04,209.32 L649.31,208.93 L649.26,208.55 L649.90,208.17 L651.13,207.78 L652.79,207.40 L654.67,207.02 L656.52,206.63 L658.08,206.25 L659.15,205.87 L659.59,205.48 L659.35,205.10 L658.44,204.72 L657.00,204.33 L655.13,203.95 L653.54,203.57 L652.42,203.18 L651.88,202.80 L651.89,202.42 L652.33,202.03 L653.01,201.65 L653.70,201.27 L654.21,200.88 L654.40,200.50 L654.40,198.00 L654.40,194.50" fill="none" stroke="#e60000" stroke-width="1.5" stroke-linejoin="round"/><path d="M654.40,188 L650.10,195.6 L658.70,195.6 Z" fill="#e60000"/>
<rect x="819.60" y="231.5" width="6.6" height="20" fill="#c0c0c0" stroke="#4d4d4d" stroke-width="0.9"/>
<path d="M822.90,231.50 L822.90,226.00 L822.90,223.50 L822.71,223.12 L822.20,222.73 L821.51,222.35 L820.83,221.97 L820.39,221.58 L820.38,221.20 L820.92,220.82 L822.04,220.43 L823.63,220.05 L825.50,219.67 L826.94,219.28 L827.85,218.90 L828.09,218.52 L827.65,218.13 L826.58,217.75 L825.02,217.37 L823.17,216.98 L821.29,216.60 L819.63,216.22 L818.40,215.83 L817.76,215.45 L817.81,215.07 L818.54,214.68 L819.84,214.30 L821.55,213.92 L823.44,213.53 L825.26,213.15 L826.76,212.77 L827.75,212.38 L828.10,212.00 L827.75,211.62 L826.76,211.23 L825.26,210.85 L823.44,210.47 L821.55,210.08 L819.84,209.70 L818.54,209.32 L817.81,208.93 L817.76,208.55 L818.40,208.17 L819.63,207.78 L821.29,207.40 L823.17,207.02 L825.02,206.63 L826.58,206.25 L827.65,205.87 L828.09,205.48 L827.85,205.10 L826.94,204.72 L825.50,204.33 L823.63,203.95 L822.04,203.57 L820.92,203.18 L820.38,202.80 L820.39,202.42 L820.83,202.03 L821.51,201.65 L822.20,201.27 L822.71,200.88 L822.90,200.50 L822.90,198.00 L822.90,194.50" fill="none" stroke="#e60000" stroke-width="1.5" stroke-linejoin="round"/><path d="M822.90,188 L818.60,195.6 L827.20,195.6 Z" fill="#e60000"/>
<rect x="988.80" y="231.5" width="6.6" height="20" fill="#c0c0c0" stroke="#4d4d4d" stroke-width="0.9"/>
<path d="M992.10,231.50 L992.10,226.00 L992.10,223.50 L991.91,223.12 L991.40,222.73 L990.71,222.35 L990.03,221.97 L989.59,221.58 L989.58,221.20 L990.12,220.82 L991.24,220.43 L992.83,220.05 L994.70,219.67 L996.14,219.28 L997.05,218.90 L997.29,218.52 L996.85,218.13 L995.78,217.75 L994.22,217.37 L992.37,216.98 L990.49,216.60 L988.83,216.22 L987.60,215.83 L986.96,215.45 L987.01,215.07 L987.74,214.68 L989.04,214.30 L990.75,213.92 L992.64,213.53 L994.46,213.15 L995.96,212.77 L996.95,212.38 L997.30,212.00 L996.95,211.62 L995.96,211.23 L994.46,210.85 L992.64,210.47 L990.75,210.08 L989.04,209.70 L987.74,209.32 L987.01,208.93 L986.96,208.55 L987.60,208.17 L988.83,207.78 L990.49,207.40 L992.37,207.02 L994.22,206.63 L995.78,206.25 L996.85,205.87 L997.29,205.48 L997.05,205.10 L996.14,204.72 L994.70,204.33 L992.83,203.95 L991.24,203.57 L990.12,203.18 L989.58,202.80 L989.59,202.42 L990.03,202.03 L990.71,201.65 L991.40,201.27 L991.91,200.88 L992.10,200.50 L992.10,198.00 L992.10,194.50" fill="none" stroke="#e60000" stroke-width="1.5" stroke-linejoin="round"/><path d="M992.10,188 L987.80,195.6 L996.40,195.6 Z" fill="#e60000"/>
<rect x="1156.80" y="231.5" width="6.6" height="20" fill="#c0c0c0" stroke="#4d4d4d" stroke-width="0.9"/>
<path d="M1160.10,231.50 L1160.10,226.00 L1160.10,223.50 L1159.91,223.12 L1159.40,222.73 L1158.71,222.35 L1158.03,221.97 L1157.59,221.58 L1157.58,221.20 L1158.12,220.82 L1159.24,220.43 L1160.83,220.05 L1162.70,219.67 L1164.14,219.28 L1165.05,218.90 L1165.29,218.52 L1164.85,218.13 L1163.78,217.75 L1162.22,217.37 L1160.37,216.98 L1158.49,216.60 L1156.83,216.22 L1155.60,215.83 L1154.96,215.45 L1155.01,215.07 L1155.74,214.68 L1157.04,214.30 L1158.75,213.92 L1160.64,213.53 L1162.46,213.15 L1163.96,212.77 L1164.95,212.38 L1165.30,212.00 L1164.95,211.62 L1163.96,211.23 L1162.46,210.85 L1160.64,210.47 L1158.75,210.08 L1157.04,209.70 L1155.74,209.32 L1155.01,208.93 L1154.96,208.55 L1155.60,208.17 L1156.83,207.78 L1158.49,207.40 L1160.37,207.02 L1162.22,206.63 L1163.78,206.25 L1164.85,205.87 L1165.29,205.48 L1165.05,205.10 L1164.14,204.72 L1162.70,204.33 L1160.83,203.95 L1159.24,203.57 L1158.12,203.18 L1157.58,202.80 L1157.59,202.42 L1158.03,202.03 L1158.71,201.65 L1159.40,201.27 L1159.91,200.88 L1160.10,200.50 L1160.10,198.00 L1160.10,194.50" fill="none" stroke="#e60000" stroke-width="1.5" stroke-linejoin="round"/><path d="M1160.10,188 L1155.80,195.6 L1164.40,195.6 Z" fill="#e60000"/>
<text x="479.3" y="287" font-family="Liberation Sans, sans-serif" font-size="20">0</text>
<text transform="translate(648.60,287.00) scale(1.120,1)" font-family="Liberation Serif, serif" font-size="25.00" fill="#000" >τ</text>
<text x="812.3" y="287" font-family="Liberation Sans, sans-serif" font-size="20">2</text>
<text transform="translate(823.90,287.00) scale(1.150,1)" font-family="Liberation Serif, serif" font-size="25.00" fill="#000" >τ</text>
<text x="980.3" y="287" font-family="Liberation Sans, sans-serif" font-size="20">3</text>
<text transform="translate(991.90,287.00) scale(1.150,1)" font-family="Liberation Serif, serif" font-size="25.00" fill="#000" >τ</text>
<text x="1148.3" y="287" font-family="Liberation Sans, sans-serif" font-size="20">4</text>
<text transform="translate(1159.90,287.00) scale(1.150,1)" font-family="Liberation Serif, serif" font-size="25.00" fill="#000" >τ</text>
<text x="1239.3" y="287" font-family="Liberation Sans, sans-serif" font-size="20.5">t</text>
<circle cx="1196.6" cy="233.8" r="1.35" fill="#000"/>
<circle cx="1203.1" cy="233.8" r="1.35" fill="#000"/>
<circle cx="1209.6" cy="233.8" r="1.35" fill="#000"/>
<g transform="translate(613.70,179.30) rotate(0.0) translate(-9.60,0.30)"><path d="M0.2,-12.7 A12.8,12.7 0 0 0 -2.6,12.45 L-2.6,8.3 A9.9,8.6 0 0 1 0.2,-8.6 Z" fill="#dc0a12"/><path d="M-2.7,6.8 L1.4,10.9 L-2.7,15 Z" fill="#e8000d"/></g>
<g transform="translate(783.90,179.20) rotate(-45.0) translate(-9.60,0.30)"><path d="M0.2,-12.7 A12.8,12.7 0 0 0 -2.6,12.45 L-2.6,8.3 A9.9,8.6 0 0 1 0.2,-8.6 Z" fill="#dc0a12"/><path d="M-2.7,6.8 L1.4,10.9 L-2.7,15 Z" fill="#e8000d"/></g>
<g transform="translate(951.20,179.30) rotate(-90.0) translate(-9.60,0.30)"><path d="M0.2,-12.7 A12.8,12.7 0 0 0 -2.6,12.45 L-2.6,8.3 A9.9,8.6 0 0 1 0.2,-8.6 Z" fill="#dc0a12"/><path d="M-2.7,6.8 L1.4,10.9 L-2.7,15 Z" fill="#e8000d"/></g>
<g transform="translate(1117.60,179.30) rotate(180.0) translate(-9.60,0.30)"><path d="M0.2,-12.7 A12.8,12.7 0 0 0 -2.6,12.45 L-2.6,8.3 A9.9,8.6 0 0 1 0.2,-8.6 Z" fill="#dc0a12"/><path d="M-2.7,6.8 L1.4,10.9 L-2.7,15 Z" fill="#e8000d"/></g>
<text transform="translate(387.70,307.30) scale(1.120,1)" font-family="Liberation Sans, sans-serif" font-size="22.60" fill="#000" >(e)</text>
<clipPath id="plot"><rect x="479.75" y="306.25" width="744.75" height="231.75"/></clipPath>
<path d="M653.75,307.2 L653.75,538.00" stroke="#c4c4c4" stroke-width="2.3" stroke-dasharray="39.1 4 2.4 5.8 40 4.4 2.4 5.4 13.3 5.2 2.4 4 15.7 4.8 2.4 4 15.1 4.7 2.4 4.1 16.2 4.1 2.4 4.3 17.9 1.9 2.4 10"/>
<path d="M823.25,307.2 L823.25,538.00" stroke="#c4c4c4" stroke-width="2.3" stroke-dasharray="39.1 4 2.4 5.8 40 4.4 2.4 5.4 13.3 5.2 2.4 4 15.7 4.8 2.4 4 15.1 4.7 2.4 4.1 16.2 4.1 2.4 4.3 17.9 1.9 2.4 10"/>
<path d="M992.20,307.2 L992.20,538.00" stroke="#c4c4c4" stroke-width="2.3" stroke-dasharray="39.1 4 2.4 5.8 40 4.4 2.4 5.4 13.3 5.2 2.4 4 15.7 4.8 2.4 4 15.1 4.7 2.4 4.1 16.2 4.1 2.4 4.3 17.9 1.9 2.4 10"/>
<path d="M1163.40,307.2 L1163.40,538.00" stroke="#c4c4c4" stroke-width="2.3" stroke-dasharray="39.1 4 2.4 5.8 40 4.4 2.4 5.4 13.3 5.2 2.4 4 15.7 4.8 2.4 4 15.1 4.7 2.4 4.1 16.2 4.1 2.4 4.3 17.9 1.9 2.4 10"/>
<g clip-path="url(#plot)" fill="none">
<path d="M480.00,323.50 L486.00,325.23 L492.00,326.96 L498.00,328.68 L504.00,330.40 L510.00,332.11 L516.00,333.82 L522.00,335.52 L528.00,337.22 L534.00,338.91 L540.00,340.60 L546.00,342.28 L552.00,343.95 L558.00,345.62 L564.00,347.29 L570.00,348.95 L576.00,350.60 L582.00,352.25 L588.00,353.90 L594.00,355.54 L600.00,357.17 L606.00,358.80 L612.00,360.42 L618.00,362.04 L624.00,363.66 L630.00,365.26 L636.00,366.87 L642.00,368.46 L648.00,370.06 L654.00,371.64 L660.00,373.22 L666.00,374.80 L672.00,376.37 L678.00,377.94 L684.00,379.50 L690.00,381.05 L696.00,382.60 L702.00,384.15 L708.00,385.69 L714.00,387.22 L720.00,388.75 L726.00,390.28 L732.00,391.80 L738.00,393.31 L744.00,394.82 L750.00,396.32 L756.00,397.82 L762.00,399.31 L768.00,400.80 L774.00,402.28 L780.00,403.76 L786.00,405.23 L792.00,406.70 L798.00,408.16 L804.00,409.62 L810.00,411.07 L816.00,412.52 L822.00,413.96 L828.00,415.39 L834.00,416.82 L840.00,418.25 L846.00,419.67 L852.00,421.08 L858.00,422.49 L864.00,423.89 L870.00,425.29 L876.00,426.69 L882.00,428.08 L888.00,429.46 L894.00,430.84 L900.00,432.21 L906.00,433.58 L912.00,434.94 L918.00,436.30 L924.00,437.65 L930.00,439.00 L936.00,440.34 L942.00,441.67 L948.00,443.00 L954.00,444.33 L960.00,445.65 L966.00,446.97 L972.00,448.28 L978.00,449.58 L984.00,450.88 L990.00,452.18 L996.00,453.46 L1002.00,454.75 L1008.00,456.03 L1014.00,457.30 L1020.00,458.57 L1026.00,459.83 L1032.00,461.09 L1038.00,462.34 L1044.00,463.59 L1050.00,464.83 L1056.00,466.07 L1062.00,467.30 L1068.00,468.53 L1074.00,469.75 L1080.00,470.97 L1086.00,472.18 L1092.00,473.38 L1098.00,474.58 L1104.00,475.78 L1110.00,476.97 L1116.00,478.15 L1122.00,479.33 L1128.00,480.51 L1134.00,481.68 L1140.00,482.84 L1146.00,484.00 L1152.00,485.15 L1158.00,486.30 L1164.00,487.44 L1170.00,488.58 L1176.00,489.71 L1182.00,490.84 L1188.00,491.96 L1194.00,493.08 L1200.00,494.19 L1206.00,495.30 L1212.00,496.40 L1218.00,497.49 L1224.00,498.59 L1224.50,498.68" stroke="#000" stroke-width="3.1"/>
<path d="M480.00,322.75 L483.00,322.75 L486.00,322.75 L489.00,322.75 L492.00,322.75 L495.00,322.74 L498.00,322.74 L501.00,322.74 L504.00,322.74 L507.00,322.74 L510.00,322.73 L513.00,322.73 L516.00,322.73 L519.00,322.72 L522.00,322.72 L525.00,322.72 L528.00,322.71 L531.00,322.71 L534.00,322.71 L537.00,322.71 L540.00,322.70 L543.00,322.70 L546.00,322.70 L549.00,322.70 L552.00,322.70 L555.00,322.70 L558.00,322.69 L561.00,322.69 L564.00,322.69 L567.00,322.70 L570.00,322.70 L573.00,322.70 L576.00,322.70 L579.00,322.71 L582.00,322.71 L585.00,322.71 L588.00,322.72 L591.00,322.73 L594.00,322.73 L597.00,322.74 L600.00,322.75 L603.00,322.76 L606.00,322.77 L609.00,322.78 L612.00,322.80 L615.00,322.81 L618.00,322.83 L621.00,322.84 L624.00,322.86 L627.00,322.89 L630.00,322.91 L633.00,322.93 L636.00,322.96 L639.00,322.99 L642.00,323.02 L645.00,323.05 L648.00,323.09 L651.00,323.14 L654.00,323.21 L657.00,323.28 L660.00,323.37 L663.00,323.50 L666.00,323.66 L669.00,323.83 L672.00,324.03 L675.00,324.30 L678.00,324.67 L681.00,325.15 L684.00,325.71 L687.00,326.33 L690.00,327.00 L693.00,327.73 L696.00,328.52 L699.00,329.33 L702.00,330.14 L705.00,330.97 L708.00,331.79 L711.00,332.55 L714.00,333.27 L717.00,333.98 L720.00,334.66 L723.00,335.33 L726.00,336.00 L729.00,336.66 L732.00,337.33 L735.00,338.00 L738.00,338.68 L741.00,339.35 L744.00,340.03 L747.00,340.70 L750.00,341.37 L753.00,342.04 L756.00,342.71 L759.00,343.38 L762.00,344.04 L765.00,344.71 L768.00,345.37 L771.00,346.02 L774.00,346.68 L777.00,347.34 L780.00,348.00 L783.00,348.66 L786.00,349.33 L789.00,350.00 L792.00,350.67 L795.00,351.33 L798.00,351.98 L801.00,352.61 L804.00,353.22 L807.00,353.82 L810.00,354.41 L813.00,355.00 L816.00,355.58 L819.00,356.17 L822.00,356.75 L823.25,357.00 L826.25,358.10 L829.25,359.27 L832.25,360.77 L835.25,362.43 L838.25,363.99 L841.25,365.52 L844.25,367.04 L847.25,368.55 L850.25,370.06 L853.25,371.58 L856.25,373.10 L859.25,374.62 L862.25,376.13 L865.25,377.65 L868.25,379.16 L871.25,380.67 L874.25,382.17 L877.25,383.67 L880.25,385.18 L883.25,386.69 L886.25,388.19 L889.25,389.70 L892.25,391.20 L895.25,392.68 L898.25,394.15 L901.25,395.60 L904.25,397.03 L907.25,398.43 L910.25,399.81 L913.25,401.18 L916.25,402.54 L919.25,403.89 L922.25,405.24 L925.25,406.59 L928.25,407.94 L931.25,409.30 L934.25,410.67 L937.25,412.04 L940.25,413.41 L943.25,414.78 L946.25,416.13 L949.25,417.46 L952.25,418.77 L955.25,420.06 L958.25,421.32 L961.25,422.55 L964.25,423.75 L967.25,424.94 L970.25,426.11 L973.25,427.26 L976.25,428.41 L979.25,429.55 L982.25,430.69 L985.25,431.83 L988.25,432.97 L991.25,434.13 L992.20,434.50 L995.20,435.80 L998.20,437.10 L1001.20,438.40 L1004.20,439.67 L1007.20,440.91 L1010.20,442.12 L1013.20,443.33 L1016.20,444.52 L1019.20,445.71 L1022.20,446.89 L1025.20,448.08 L1028.20,449.28 L1031.20,450.49 L1034.20,451.71 L1037.20,452.93 L1040.20,454.17 L1043.20,455.40 L1046.20,456.63 L1049.20,457.86 L1052.20,459.07 L1055.20,460.28 L1058.20,461.49 L1061.20,462.72 L1064.20,463.95 L1067.20,465.17 L1070.20,466.37 L1073.20,467.53 L1076.20,468.66 L1079.20,469.73 L1082.20,470.74 L1085.20,471.72 L1088.20,472.66 L1091.20,473.57 L1094.20,474.44 L1097.20,475.26 L1100.20,476.04 L1103.20,476.78 L1106.20,477.47 L1109.20,478.10 L1112.20,478.68 L1115.20,479.21 L1118.20,479.70 L1121.20,480.16 L1124.20,480.60 L1127.20,481.02 L1130.20,481.43 L1133.20,481.81 L1136.20,482.17 L1139.20,482.49 L1142.20,482.78 L1145.20,483.03 L1148.20,483.25 L1151.20,483.45 L1154.20,483.62 L1157.20,483.74 L1160.20,483.81 L1163.20,483.80 L1166.20,483.72 L1169.20,483.57 L1172.20,483.37 L1175.20,483.11 L1178.20,482.80 L1181.20,482.46 L1184.20,482.07 L1187.20,481.64 L1190.20,481.17 L1193.20,480.67 L1196.20,480.13 L1199.20,479.56 L1202.20,478.95 L1205.20,478.29 L1208.20,477.60 L1211.20,476.88 L1214.20,476.13 L1217.20,475.39 L1220.20,474.64 L1223.20,473.91 L1224.50,473.60" stroke="#e60000" stroke-width="1.5"/>
<path d="M480.00,322.75 L483.00,322.75 L486.00,322.75 L489.00,322.75 L492.00,322.75 L495.00,322.74 L498.00,322.74 L501.00,322.74 L504.00,322.74 L507.00,322.74 L510.00,322.73 L513.00,322.73 L516.00,322.73 L519.00,322.72 L522.00,322.72 L525.00,322.72 L528.00,322.71 L531.00,322.71 L534.00,322.71 L537.00,322.71 L540.00,322.70 L543.00,322.70 L546.00,322.70 L549.00,322.70 L552.00,322.70 L555.00,322.70 L558.00,322.69 L561.00,322.69 L564.00,322.69 L567.00,322.70 L570.00,322.70 L573.00,322.70 L576.00,322.70 L579.00,322.71 L582.00,322.71 L585.00,322.71 L588.00,322.72 L591.00,322.73 L594.00,322.73 L597.00,322.74 L600.00,322.75 L603.00,322.76 L606.00,322.77 L609.00,322.78 L612.00,322.80 L615.00,322.81 L618.00,322.83 L621.00,322.84 L624.00,322.86 L627.00,322.89 L630.00,322.91 L633.00,322.93 L636.00,322.96 L639.00,322.99 L642.00,323.02 L645.00,323.05 L648.00,323.09 L651.00,323.14 L654.00,323.21 L657.00,323.28 L660.00,323.37 L663.00,323.50 L666.00,323.66 L669.00,323.83 L672.00,324.03 L675.00,324.30 L678.00,324.67 L681.00,325.15 L684.00,325.71 L687.00,326.33 L690.00,327.00 L693.00,327.73 L696.00,328.52 L699.00,329.33 L702.00,330.14 L705.00,330.97 L708.00,331.79 L711.00,332.55 L714.00,333.27 L717.00,333.98 L720.00,334.66 L723.00,335.33 L726.00,336.00 L729.00,336.66 L732.00,337.33 L735.00,338.00 L738.00,338.68 L741.00,339.35 L744.00,340.03 L747.00,340.70 L750.00,341.37 L753.00,342.04 L756.00,342.71 L759.00,343.38 L762.00,344.04 L765.00,344.71 L768.00,345.37 L771.00,346.02 L774.00,346.68 L777.00,347.34 L780.00,348.00 L783.00,348.66 L786.00,349.33 L789.00,350.00 L792.00,350.67 L795.00,351.33 L798.00,351.98 L801.00,352.61 L804.00,353.22 L807.00,353.82 L810.00,354.41 L813.00,355.00 L816.00,355.58 L819.00,356.17 L822.00,356.75 L823.25,357.00 L826.25,358.10 L829.25,359.27 L832.25,360.77 L835.25,362.43 L838.25,363.99 L841.25,365.52 L844.25,367.04 L847.25,368.55 L850.25,370.06 L853.25,371.58 L856.25,373.10 L859.25,374.62 L862.25,376.13 L865.25,377.65 L868.25,379.16 L871.25,380.67 L874.25,382.17 L877.25,383.67 L880.25,385.18 L883.25,386.69 L886.25,388.19 L889.25,389.70 L892.25,391.20 L895.25,392.68 L898.25,394.15 L901.25,395.60 L904.25,397.03 L907.25,398.43 L910.25,399.81 L913.25,401.18 L916.25,402.54 L919.25,403.89 L922.25,405.24 L925.25,406.59 L928.25,407.94 L931.25,409.30 L934.25,410.67 L937.25,412.04 L940.25,413.41 L943.25,414.78 L946.25,416.13 L949.25,417.46 L952.25,418.77 L955.25,420.06 L958.25,421.32 L961.25,422.55 L964.25,423.75 L967.25,424.94 L970.25,426.11 L973.25,427.26 L976.25,428.41 L979.25,429.55 L982.25,430.69 L985.25,431.83 L988.25,432.97 L991.25,434.13 L992.20,434.50 L995.20,435.80 L998.20,437.10 L1001.20,438.40 L1004.20,439.67 L1007.20,440.91 L1010.20,442.12 L1013.20,443.33 L1016.20,444.52 L1019.20,445.71 L1022.20,446.89 L1025.20,448.08 L1028.20,449.28 L1031.20,450.49 L1034.20,451.71 L1037.20,452.93 L1040.20,454.17 L1043.20,455.40 L1046.20,456.63 L1049.20,457.86 L1052.20,459.07 L1055.20,460.28 L1058.20,461.49 L1061.20,462.72 L1064.20,463.95 L1067.20,465.17 L1070.20,466.37 L1073.20,467.53 L1076.20,468.66 L1079.20,469.73 L1082.20,470.74 L1085.20,471.72 L1088.20,472.66 L1091.20,473.57 L1094.20,474.44 L1097.20,475.26 L1100.20,476.04 L1103.20,476.78 L1106.20,477.47 L1109.20,478.10 L1112.20,478.68 L1115.20,479.21 L1118.20,479.70 L1121.20,480.16 L1124.20,480.60 L1127.20,481.02 L1130.20,481.43 L1133.20,481.81 L1136.20,482.17 L1139.20,482.49 L1142.20,482.78 L1145.20,483.03 L1148.20,483.25 L1151.20,483.45 L1154.20,483.62 L1157.20,483.74 L1160.20,483.81 L1163.20,483.80 L1166.20,483.72 L1169.20,483.57 L1172.20,483.37 L1175.20,483.11 L1178.20,482.80 L1181.20,482.46 L1184.20,482.07 L1187.20,481.64 L1190.20,481.17 L1193.20,480.67 L1196.20,480.13 L1199.20,479.56 L1202.20,478.95 L1205.20,478.29 L1208.20,477.60 L1211.20,476.88 L1214.20,476.13 L1217.20,475.39 L1220.20,474.64 L1223.20,473.91 L1224.50,473.60" stroke="#800080" stroke-width="5" stroke-linecap="round" stroke-dasharray="7.5 15"/>
<path d="M480.00,322.75 L483.00,322.75 L486.00,322.75 L489.00,322.75 L492.00,322.75 L495.00,322.74 L498.00,322.74 L501.00,322.74 L504.00,322.74 L507.00,322.74 L510.00,322.73 L513.00,322.73 L516.00,322.73 L519.00,322.72 L522.00,322.72 L525.00,322.72 L528.00,322.71 L531.00,322.71 L534.00,322.71 L537.00,322.71 L540.00,322.70 L543.00,322.70 L546.00,322.70 L549.00,322.70 L552.00,322.70 L555.00,322.70 L558.00,322.69 L561.00,322.69 L564.00,322.69 L567.00,322.70 L570.00,322.70 L573.00,322.70 L576.00,322.70 L579.00,322.71 L582.00,322.71 L585.00,322.71 L588.00,322.72 L591.00,322.73 L594.00,322.73 L597.00,322.74 L600.00,322.75 L603.00,322.76 L606.00,322.77 L609.00,322.78 L612.00,322.80 L615.00,322.81 L618.00,322.83 L621.00,322.84 L624.00,322.86 L627.00,322.89 L630.00,322.91 L633.00,322.93 L636.00,322.96 L639.00,322.99 L642.00,323.02 L645.00,323.05 L648.00,323.09 L651.00,323.14 L654.00,323.21 L657.00,323.28 L660.00,323.37 L663.00,323.50 L666.00,323.66 L669.00,323.83 L672.00,324.03 L675.00,324.30 L678.00,324.67 L681.00,325.15 L684.00,325.71 L687.00,326.33 L690.00,327.00 L693.00,327.73 L696.00,328.52 L699.00,329.33 L702.00,330.14 L705.00,330.97 L708.00,331.79 L711.00,332.55 L714.00,333.27 L717.00,333.98 L720.00,334.66 L723.00,335.33 L726.00,336.00 L729.00,336.66 L732.00,337.33 L735.00,338.00 L738.00,338.68 L741.00,339.35 L744.00,340.03 L747.00,340.70 L750.00,341.37 L753.00,342.04 L756.00,342.71 L759.00,343.38 L762.00,344.04 L765.00,344.71 L768.00,345.37 L771.00,346.02 L774.00,346.68 L777.00,347.34 L780.00,348.00 L783.00,348.66 L786.00,349.33 L789.00,350.00 L792.00,350.67 L795.00,351.33 L798.00,351.98 L801.00,352.61 L804.00,353.22 L807.00,353.82 L810.00,354.41 L813.00,355.00 L816.00,355.58 L819.00,356.17 L822.00,356.75 L823.25,357.00 L826.25,358.10 L829.25,359.27 L832.25,360.77 L835.25,362.43 L838.25,363.99 L841.25,365.52 L844.25,367.04 L847.25,368.55 L850.25,370.06 L853.25,371.58 L856.25,373.10 L859.25,374.62 L862.25,376.13 L865.25,377.65 L868.25,379.16 L871.25,380.67 L874.25,382.17 L877.25,383.67 L880.25,385.18 L883.25,386.69 L886.25,388.19 L889.25,389.70 L892.25,391.20 L895.25,392.68 L898.25,394.15 L901.25,395.60 L904.25,397.03 L907.25,398.43 L910.25,399.81 L913.25,401.18 L916.25,402.54 L919.25,403.89 L922.25,405.24 L925.25,406.59 L928.25,407.94 L931.25,409.30 L934.25,410.67 L937.25,412.04 L940.25,413.41 L943.25,414.78 L946.25,416.13 L949.25,417.46 L952.25,418.77 L955.25,420.06 L958.25,421.32 L961.25,422.55 L964.25,423.75 L967.25,424.94 L970.25,426.11 L973.25,427.26 L976.25,428.41 L979.25,429.55 L982.25,430.69 L985.25,431.83 L988.25,432.97 L991.25,434.13 L992.20,434.50 L995.20,435.46 L998.20,436.44 L1001.20,437.43 L1004.20,438.42 L1007.20,439.40 L1010.20,440.35 L1013.20,441.27 L1016.20,442.14 L1019.20,442.96 L1022.20,443.75 L1025.20,444.50 L1028.20,445.22 L1031.20,445.91 L1034.20,446.58 L1037.20,447.22 L1040.20,447.84 L1043.20,448.44 L1046.20,449.02 L1049.20,449.58 L1052.20,450.11 L1055.20,450.62 L1058.20,451.10 L1061.20,451.56 L1064.20,451.98 L1067.20,452.36 L1070.20,452.71 L1073.20,453.02 L1076.20,453.30 L1079.20,453.55 L1082.20,453.77 L1085.20,453.97 L1088.20,454.16 L1091.20,454.33 L1094.20,454.49 L1097.20,454.62 L1100.20,454.74 L1103.20,454.83 L1106.20,454.91 L1109.20,454.97 L1112.20,455.03 L1115.20,455.07 L1118.20,455.11 L1121.20,455.14 L1124.20,455.15 L1127.20,455.15 L1130.20,455.15 L1133.20,455.13 L1136.20,455.10 L1139.20,455.06 L1142.20,455.01 L1145.20,454.94 L1148.20,454.87 L1151.20,454.78 L1154.20,454.68 L1157.20,454.57 L1160.20,454.45 L1163.20,454.31 L1166.20,454.16 L1169.20,454.00 L1172.20,453.84 L1175.20,453.66 L1178.20,453.48 L1181.20,453.28 L1184.20,453.09 L1187.20,452.88 L1190.20,452.67 L1193.20,452.45 L1196.20,452.22 L1199.20,451.98 L1202.20,451.73 L1205.20,451.48 L1208.20,451.22 L1211.20,450.96 L1214.20,450.69 L1217.20,450.43 L1220.20,450.17 L1223.20,449.91 L1224.50,449.80" stroke="#0000e6" stroke-width="4.3" stroke-linecap="round" stroke-dasharray="7.2 11.75"/>
<path d="M480.00,322.75 L483.00,322.75 L486.00,322.75 L489.00,322.75 L492.00,322.75 L495.00,322.74 L498.00,322.74 L501.00,322.74 L504.00,322.74 L507.00,322.74 L510.00,322.73 L513.00,322.73 L516.00,322.73 L519.00,322.72 L522.00,322.72 L525.00,322.72 L528.00,322.71 L531.00,322.71 L534.00,322.71 L537.00,322.71 L540.00,322.70 L543.00,322.70 L546.00,322.70 L549.00,322.70 L552.00,322.70 L555.00,322.70 L558.00,322.69 L561.00,322.69 L564.00,322.69 L567.00,322.70 L570.00,322.70 L573.00,322.70 L576.00,322.70 L579.00,322.71 L582.00,322.71 L585.00,322.71 L588.00,322.72 L591.00,322.73 L594.00,322.73 L597.00,322.74 L600.00,322.75 L603.00,322.76 L606.00,322.77 L609.00,322.78 L612.00,322.80 L615.00,322.81 L618.00,322.83 L621.00,322.84 L624.00,322.86 L627.00,322.89 L630.00,322.91 L633.00,322.93 L636.00,322.96 L639.00,322.99 L642.00,323.02 L645.00,323.05 L648.00,323.09 L651.00,323.14 L654.00,323.21 L657.00,323.28 L660.00,323.37 L663.00,323.50 L666.00,323.66 L669.00,323.83 L672.00,324.03 L675.00,324.30 L678.00,324.67 L681.00,325.15 L684.00,325.71 L687.00,326.33 L690.00,327.00 L693.00,327.73 L696.00,328.52 L699.00,329.33 L702.00,330.14 L705.00,330.97 L708.00,331.79 L711.00,332.55 L714.00,333.27 L717.00,333.98 L720.00,334.66 L723.00,335.33 L726.00,336.00 L729.00,336.66 L732.00,337.33 L735.00,338.00 L738.00,338.68 L741.00,339.35 L744.00,340.03 L747.00,340.70 L750.00,341.37 L753.00,342.04 L756.00,342.71 L759.00,343.38 L762.00,344.04 L765.00,344.71 L768.00,345.37 L771.00,346.02 L774.00,346.68 L777.00,347.34 L780.00,348.00 L783.00,348.66 L786.00,349.33 L789.00,350.00 L792.00,350.67 L795.00,351.33 L798.00,351.98 L801.00,352.61 L804.00,353.22 L807.00,353.82 L810.00,354.41 L813.00,355.00 L816.00,355.58 L819.00,356.17 L822.00,356.75 L823.25,357.00 L826.25,357.47 L829.25,357.95 L832.25,358.43 L835.25,358.90 L838.25,359.35 L841.25,359.77 L844.25,360.18 L847.25,360.56 L850.25,360.94 L853.25,361.30 L856.25,361.66 L859.25,362.02 L862.25,362.37 L865.25,362.73 L868.25,363.09 L871.25,363.45 L874.25,363.81 L877.25,364.16 L880.25,364.51 L883.25,364.86 L886.25,365.19 L889.25,365.52 L892.25,365.84 L895.25,366.14 L898.25,366.44 L901.25,366.73 L904.25,367.01 L907.25,367.29 L910.25,367.56 L913.25,367.84 L916.25,368.12 L919.25,368.39 L922.25,368.67 L925.25,368.94 L928.25,369.21 L931.25,369.47 L934.25,369.73 L937.25,369.98 L940.25,370.22 L943.25,370.45 L946.25,370.67 L949.25,370.88 L952.25,371.09 L955.25,371.29 L958.25,371.48 L961.25,371.68 L964.25,371.87 L967.25,372.07 L970.25,372.26 L973.25,372.45 L976.25,372.63 L979.25,372.82 L982.25,373.00 L985.25,373.18 L988.25,373.35 L991.25,373.53 L994.25,373.69 L997.25,373.86 L1000.25,374.01 L1003.25,374.17 L1006.25,374.32 L1009.25,374.47 L1012.25,374.62 L1015.25,374.77 L1018.25,374.91 L1021.25,375.05 L1024.25,375.19 L1027.25,375.33 L1030.25,375.46 L1033.25,375.59 L1036.25,375.72 L1039.25,375.84 L1042.25,375.97 L1045.25,376.08 L1048.25,376.20 L1051.25,376.30 L1054.25,376.41 L1057.25,376.51 L1060.25,376.61 L1063.25,376.70 L1066.25,376.79 L1069.25,376.87 L1072.25,376.94 L1075.25,377.01 L1078.25,377.08 L1081.25,377.14 L1084.25,377.20 L1087.25,377.25 L1090.25,377.31 L1093.25,377.35 L1096.25,377.40 L1099.25,377.45 L1102.25,377.49 L1105.25,377.53 L1108.25,377.58 L1111.25,377.62 L1114.25,377.66 L1117.25,377.69 L1120.25,377.72 L1123.25,377.76 L1126.25,377.78 L1129.25,377.81 L1132.25,377.83 L1135.25,377.86 L1138.25,377.88 L1141.25,377.90 L1144.25,377.91 L1147.25,377.93 L1150.25,377.94 L1153.25,377.96 L1156.25,377.97 L1159.25,377.98 L1162.25,378.00 L1165.25,378.01 L1168.25,378.02 L1171.25,378.02 L1174.25,378.03 L1177.25,378.03 L1180.25,378.03 L1183.25,378.03 L1186.25,378.03 L1189.25,378.03 L1192.25,378.03 L1195.25,378.03 L1198.25,378.02 L1201.25,378.02 L1204.25,378.02 L1207.25,378.01 L1210.25,378.01 L1213.25,378.01 L1216.25,378.00 L1219.25,378.00 L1222.25,378.00 L1224.50,378.00" stroke="#00ee11" stroke-width="4.3" stroke-linecap="round" stroke-dasharray="7.2 11.65"/>
<path d="M480.5,322.75 L1226,322.75" stroke="#808080" stroke-width="4.4" stroke-linecap="round" stroke-dasharray="0.01 8.2"/>
</g>
<rect x="479.75" y="306.25" width="744.75" height="231.75" fill="none" stroke="#000" stroke-width="2.8"/>
<path d="M562.35,538.00 v-3.50 M562.35,306.25 v3.50 M645.10,538.00 v-6.50 M645.10,306.25 v6.50 M727.85,538.00 v-3.50 M727.85,306.25 v3.50 M810.60,538.00 v-6.50 M810.60,306.25 v6.50 M893.35,538.00 v-3.50 M893.35,306.25 v3.50 M976.10,538.00 v-6.50 M976.10,306.25 v6.50 M1058.85,538.00 v-3.50 M1058.85,306.25 v3.50 M1141.60,538.00 v-6.50 M1141.60,306.25 v6.50 M1224.35,538.00 v-3.50 M1224.35,306.25 v3.50 M479.75,474.43 h3.8 M1224.50,474.43 h-3.8 M479.75,436.21 h3.8 M1224.50,436.21 h-3.8 M479.75,409.10 h3.8 M1224.50,409.10 h-3.8 M479.75,388.07 h3.8 M1224.50,388.07 h-3.8 M479.75,370.89 h3.8 M1224.50,370.89 h-3.8 M479.75,356.36 h3.8 M1224.50,356.36 h-3.8 M479.75,343.78 h3.8 M1224.50,343.78 h-3.8 M479.75,332.68 h3.8 M1224.50,332.68 h-3.8 M479.75,322.75 h6 M1224.50,322.75 h-6" stroke="#000" stroke-width="2.2" fill="none"/>
<text x="478.60" y="561.2" text-anchor="middle" font-family="Liberation Sans, sans-serif" font-size="19.6">0.00</text>
<text x="644.10" y="561.2" text-anchor="middle" font-family="Liberation Sans, sans-serif" font-size="19.6">0.04</text>
<text x="809.60" y="561.2" text-anchor="middle" font-family="Liberation Sans, sans-serif" font-size="19.6">0.08</text>
<text x="975.10" y="561.2" text-anchor="middle" font-family="Liberation Sans, sans-serif" font-size="19.6">0.12</text>
<text x="1140.60" y="561.2" text-anchor="middle" font-family="Liberation Sans, sans-serif" font-size="19.6">0.16</text>
<text x="443.5" y="330" font-family="Liberation Sans, sans-serif" font-size="19">10<tspan dy="-7.5" font-size="12.5">0</tspan></text>
<text x="437.8" y="546" font-family="Liberation Sans, sans-serif" font-size="19">10<tspan dy="-7.5" font-size="12.5">-1</tspan></text>
<text transform="translate(786,598.8) scale(1.075,1)" font-family="Liberation Sans, sans-serif" font-size="21">t (units of g<tspan dy="-8" font-size="13">-1</tspan><tspan dy="8">)</tspan></text>
<text transform="translate(440.8,429.6) rotate(-90)" font-family="Liberation Serif, serif" font-size="25.5">ξ<tspan dy="-9.5" font-size="14.5">2</tspan></text>
<path d="M510.6,430.4 L557,430.4" stroke="#808080" stroke-width="4.3" stroke-linecap="round" stroke-dasharray="0.01 9.2"/>
<path d="M512.2,465 L557,465" stroke="#00ee11" stroke-width="4.2" stroke-linecap="round" stroke-dasharray="7 11.9"/>
<path d="M512.2,499.3 L557,499.3" stroke="#0000e6" stroke-width="4.2" stroke-linecap="round" stroke-dasharray="7 11.9"/>
<path d="M687,430.4 L736.2,430.4" stroke="#800080" stroke-width="5" stroke-linecap="round" stroke-dasharray="10.6 12.1"/>
<path d="M685.3,465 L737,465" stroke="#e60000" stroke-width="1.5"/>
<path d="M687.5,499.2 L735.5,499.2" stroke="#000" stroke-width="3.8" stroke-linecap="round"/>
<text x="568.40" y="438.70" font-family="Liberation Serif, serif" font-size="22.5">ξ</text><text x="579.00" y="430.50" font-family="Liberation Serif, serif" font-size="15.5">2</text><text x="579.10" y="443.20" font-family="Liberation Sans, sans-serif" font-size="14.8">no-pulse</text>
<text x="568.40" y="473.50" font-family="Liberation Serif, serif" font-size="22.5">ξ</text><text x="579.00" y="465.30" font-family="Liberation Serif, serif" font-size="15.5">2</text><text x="579.10" y="478.00" font-family="Liberation Sans, sans-serif" font-size="14.8">1-pulse</text>
<text x="568.40" y="507.70" font-family="Liberation Serif, serif" font-size="22.5">ξ</text><text x="579.00" y="499.50" font-family="Liberation Serif, serif" font-size="15.5">2</text><text x="579.10" y="512.20" font-family="Liberation Sans, sans-serif" font-size="14.8">2-pulses</text>
<text x="742.50" y="438.70" font-family="Liberation Serif, serif" font-size="22.5">ξ</text><text x="753.10" y="430.50" font-family="Liberation Serif, serif" font-size="15.5">2</text><text x="753.20" y="443.20" font-family="Liberation Sans, sans-serif" font-size="14.8">3-pulses</text>
<text x="742.50" y="473.50" font-family="Liberation Serif, serif" font-size="22.5">ξ</text><text x="753.10" y="465.30" font-family="Liberation Serif, serif" font-size="15.5">2</text><text x="753.20" y="478.00" font-family="Liberation Sans, sans-serif" font-size="14.8">4-pulses</text>
<text x="742.50" y="507.70" font-family="Liberation Serif, serif" font-size="22.5">ξ</text><text x="753.10" y="499.50" font-family="Liberation Serif, serif" font-size="15.5">2</text><text x="753.20" y="512.20" font-family="Liberation Sans, sans-serif" font-size="14.8">OAT</text>
</svg>
</body></html>
